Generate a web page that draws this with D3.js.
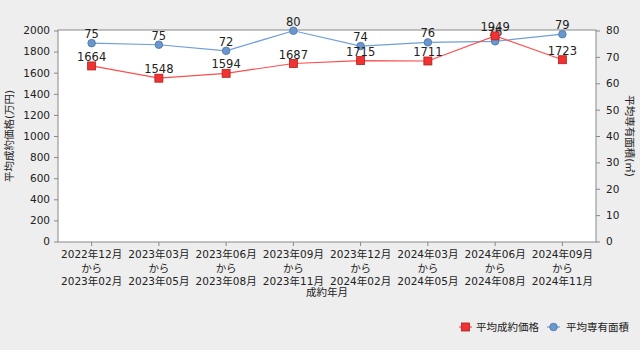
<!DOCTYPE html>
<html><head><meta charset="utf-8">
<script src="https://cdn.jsdelivr.net/npm/d3@7"></script>
<style>
html,body{margin:0;padding:0;background:#eeeeee;}
text{font-family:"DejaVu Sans","Noto Sans CJK JP",sans-serif;font-size:10.5px;fill:#222;}
</style></head>
<body>
<svg id="chart" width="640" height="350"></svg>
<script>
const categoriesFrom = ["2022年12月","2023年03月","2023年06月","2023年09月","2023年12月","2024年03月","2024年06月","2024年09月"];
const categoriesTo = ["2023年02月","2023年05月","2023年08月","2023年11月","2024年02月","2024年05月","2024年08月","2024年11月"];
const priceValues = [1664, 1548, 1594, 1687, 1715, 1711, 1949, 1723];
const areaValues = [75.2, 74.6, 72.3, 79.9, 74.1, 75.5, 75.9, 78.6];
const leftTicks = [0,200,400,600,800,1000,1200,1400,1600,1800,2000];
const rightTicks = [0,10,20,30,40,50,60,70,80];
const seriesNames = ["平均成約価格","平均専有面積"];

const svg = d3.select("#chart");
const L = 58, R = 596, T = 30.5, B = 241.5;
const red = "#ff4d4d", redFill = "#f03232", redStroke = "#b02020";
const blue = "#6f9fd6", blueFill = "#6a98cc", blueStroke = "#4a74a8";

const x = d3.scaleBand().domain(d3.range(categoriesFrom.length)).range([L, R]);
const cx = i => x(i) + x.bandwidth()/2;
const yL = d3.scaleLinear().domain([0,2000]).range([B, T]);
const yR = d3.scaleLinear().domain([0,80]).range([B, T]);

svg.append("rect").attr("x", L).attr("y", T - 0.5).attr("width", R - L).attr("height", B - T + 1)
  .attr("fill", "#fff").attr("stroke", "#888").attr("stroke-width", 1);

// left axis
const gl = svg.append("g").attr("transform", `translate(${L},0)`)
  .call(d3.axisLeft(yL).tickValues(leftTicks).tickSize(4).tickPadding(4).tickFormat(d3.format("d")));
gl.select(".domain").remove();
gl.selectAll("line").attr("stroke", "#888");
gl.selectAll("text").style("font-size","10.5px").attr("fill","#222");

// right axis
const gr = svg.append("g").attr("transform", `translate(${R},0)`)
  .call(d3.axisRight(yR).tickValues(rightTicks).tickSize(4).tickPadding(6).tickFormat(d3.format("d")));
gr.select(".domain").remove();
gr.selectAll("line").attr("stroke", "#888");
gr.selectAll("text").style("font-size","10.5px").attr("fill","#222");

// bottom axis
const gb = svg.append("g").attr("transform", `translate(0,${B + 0.5})`)
  .call(d3.axisBottom(x).tickSize(4).tickFormat(""));
gb.select(".domain").remove();
gb.selectAll("line").attr("stroke", "#888");
gb.selectAll(".tick").each(function(d){
  const t = d3.select(this).append("text").attr("text-anchor","middle").attr("fill","#222");
  t.append("tspan").attr("x",0).attr("y",16).text(categoriesFrom[d]);
  t.append("tspan").attr("x",0).attr("y",30).text("から");
  t.append("tspan").attr("x",0).attr("y",43).text(categoriesTo[d]);
});

// axis titles
svg.append("text").attr("x", (L+R)/2).attr("y", 296).attr("text-anchor","middle").text("成約年月");
svg.append("text").attr("transform", `translate(13,${(T+B)/2}) rotate(-90)`).attr("text-anchor","middle").text("平均成約価格(万円)");
svg.append("text").attr("transform", `translate(626,${(T+B)/2}) rotate(90)`).attr("text-anchor","middle").text("平均専有面積(㎡)");

// area series (blue)
const lineA = d3.line().x((d,i)=>cx(i)).y(d=>yR(d));
svg.append("path").datum(areaValues).attr("d", lineA).attr("fill","none").attr("stroke", blue).attr("stroke-width",1.2);
svg.selectAll(".pa").data(areaValues).enter().append("circle")
  .attr("cx",(d,i)=>cx(i)).attr("cy",d=>yR(d)).attr("r",3.8)
  .attr("fill",blueFill).attr("stroke",blueStroke).attr("stroke-width",0.8);
svg.selectAll(".la").data(areaValues).enter().append("text")
  .attr("x",(d,i)=>cx(i)).attr("y",d=>yR(d)-5).attr("text-anchor","middle").attr("font-size","11.5px").style("font-size","11.5px")
  .attr("fill","#111").text(d=>Math.round(d));

// price series (red)
const lineP = d3.line().x((d,i)=>cx(i)).y(d=>yL(d));
svg.append("path").datum(priceValues).attr("d", lineP).attr("fill","none").attr("stroke", red).attr("stroke-width",1.2);
svg.selectAll(".pp").data(priceValues).enter().append("rect")
  .attr("x",(d,i)=>cx(i)-4).attr("y",d=>yL(d)-4).attr("width",8).attr("height",8)
  .attr("fill",redFill).attr("stroke",redStroke).attr("stroke-width",0.8);
svg.selectAll(".lp").data(priceValues).enter().append("text")
  .attr("x",(d,i)=>cx(i)).attr("y",d=>yL(d)-5).attr("text-anchor","middle").style("font-size","11.5px")
  .attr("fill","#111").text(d=>d);

// legend
const lg = svg.append("g");
lg.append("line").attr("x1",459).attr("x2",472).attr("y1",327).attr("y2",327).attr("stroke",red).attr("stroke-width",1.2);
lg.append("rect").attr("x",461.5).attr("y",323).attr("width",8).attr("height",8).attr("fill",redFill).attr("stroke",redStroke).attr("stroke-width",0.8);
lg.append("text").attr("x",476).attr("y",331).text(seriesNames[0]);
lg.append("line").attr("x1",547).attr("x2",560).attr("y1",327).attr("y2",327).attr("stroke",blue).attr("stroke-width",1.2);
lg.append("circle").attr("cx",553.5).attr("cy",327).attr("r",3.8).attr("fill",blueFill).attr("stroke",blueStroke).attr("stroke-width",0.8);
lg.append("text").attr("x",566).attr("y",331).text(seriesNames[1]);
</script>
</body></html>
